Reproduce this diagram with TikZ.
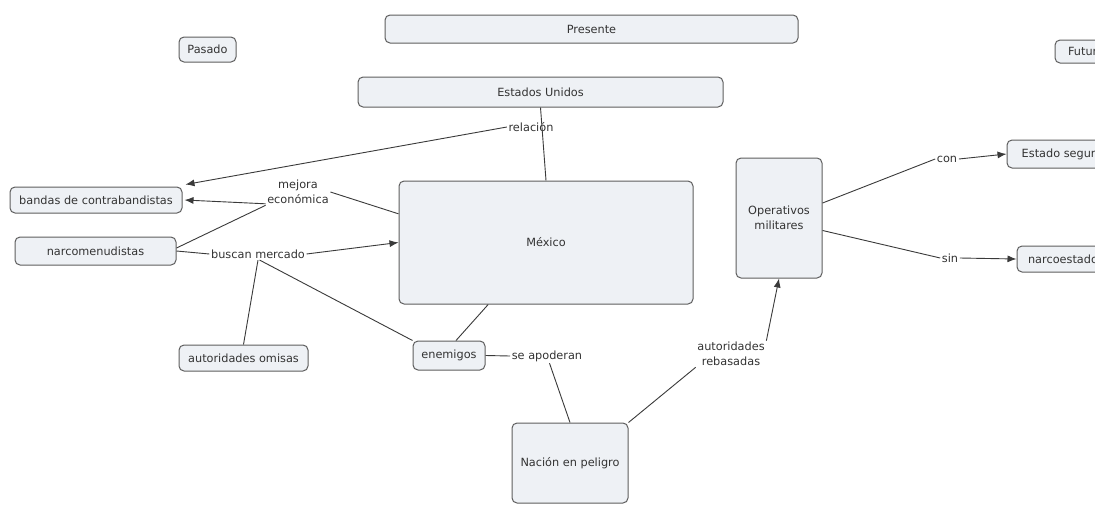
\documentclass[tikz,border=0pt]{standalone}
\usepackage{fontspec}
\setmainfont{DejaVu Sans}
\usetikzlibrary{arrows.meta,calc}
\definecolor{boxf}{HTML}{EEF1F5}
\definecolor{boxc}{HTML}{5E5E5E}
\definecolor{linec}{HTML}{3A3A3A}
\definecolor{txtc}{HTML}{333333}
\newcommand\mylbl{\fontsize{11.3}{14.5}\selectfont}
\begin{document}
\begin{tikzpicture}[x=1pt,y=-1pt,
  box/.style={draw=boxc,fill=boxf,rounded corners=5pt,line width=1pt,inner sep=0pt,font=\mylbl,text=txtc,align=center},
  lab/.style={inner sep=1.5pt,font=\mylbl,text=txtc,align=center},
  link/.style={draw=linec,line width=0.9pt},
  arr/.style={link,-{Latex[length=9pt,width=7pt]}}]
\clip (0,0) rectangle (1095,504);
\useasboundingbox (0,0) rectangle (1095,504);
\fill[white] (0,0) rectangle (1095,504);
% nodes
\node[box,minimum width=57,minimum height=25] (pas) at (207.5,49.5) {Pasado};
\node[box,minimum width=413,minimum height=28] (pre) at (591.5,29) {Presente};
\node[box,minimum width=62,minimum height=23] (fut) at (1086,51.5) {Futuro};
\node[box,minimum width=365,minimum height=30] (eu) at (540.5,92) {Estados Unidos};
\node[box,minimum width=172,minimum height=26] (band) at (96,200) {bandas de contrabandistas};
\node[box,minimum width=161,minimum height=28] (narco) at (95.5,251) {narcomenudistas};
\node[box,minimum width=294,minimum height=123] (mex) at (546,242.5) {México};
\node[box,minimum width=86,minimum height=120] (ops) at (779,218) {Operativos\\militares};
\node[box,minimum width=110,minimum height=28] (seg) at (1062,154) {Estado seguro};
\node[box,minimum width=92,minimum height=26] (nest) at (1063,259) {narcoestado};
\node[box,minimum width=129,minimum height=26] (omi) at (243.5,358) {autoridades omisas};
\node[box,minimum width=72,minimum height=29] (ene) at (449,355.5) {enemigos};
\node[box,minimum width=116,minimum height=80] (nac) at (570,463) {Nación en peligro};
% labels
\node[lab] (rel) at (531,127) {relación};
\node[lab] (mej) at (298,192) {mejora\\económica};
\node[lab] (bus) at (258,254) {buscan mercado};
\node[lab] (conl) at (947,159) {con};
\node[lab] (sinl) at (950,258) {sin};
\node[lab] (apo) at (547,356) {se apoderan};
\node[lab] (reb) at (731,354) {autoridades\\rebasadas};
% connectors
\draw[link] (eu.south) -- (mex.north);
\draw[arr] (rel.west) -- ($(band.north east)+(3,-2)$);
\draw[link] (mex.169) -- (mej.east);
\draw[arr] (mej.200) -- ($(band.east)+(2,0)$);
\draw[link] ($(narco.east)+(0,-3)$) -- (mej.south west);
\draw[link] (narco.east) -- (bus.west);
\draw[arr] (bus.east) -- (mex.west);
\draw[link] (bus.south) -- (omi.north);
\draw[link] (bus.-75) -- (ene.north west);
\draw[link] (mex.227) -- (ene.65);
\draw[link] (ene.east) -- (apo.west);
\draw[link] (apo) -- (nac.north);
\draw[link] (nac.north east) -- (reb.south west);
\draw[arr] (reb.north east) -- (ops.south);
\draw[link] (ops.19) -- (conl.west);
\draw[arr] (conl.east) -- (seg.west);
\draw[link] (ops.-16) -- (sinl.west);
\draw[arr] (sinl.east) -- (nest.west);
\end{tikzpicture}
\end{document}
